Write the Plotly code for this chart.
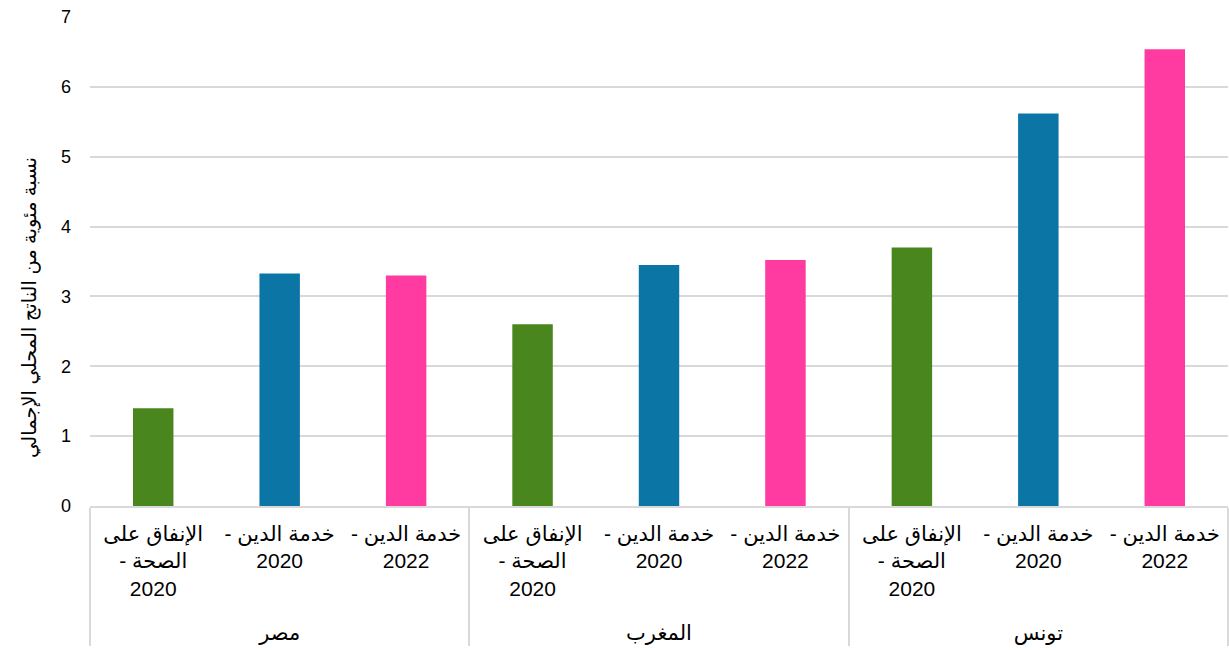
import plotly.graph_objects as go

RLM = "\u200f"
countries = ["مصر", "المغرب", "تونس"]
items = [
    "الإنفاق على<br>الصحة -" + RLM + "<br>2020",
    "خدمة الدين -" + RLM + "<br>2020",
    "خدمة الدين -" + RLM + "<br>2022",
]
values = {
    "مصر": [1.4, 3.33, 3.3],
    "المغرب": [2.6, 3.45, 3.52],
    "تونس": [3.7, 5.62, 6.54],
}
bar_colors = ["#4a861e", "#0b76a5", "#ff3aa0"]
ytitle = "نسبة مئوية من الناتج المحلي الإجمالي"

xg, xs, ys, cs = [], [], [], []
for c in countries:
    for i, it in enumerate(items):
        xg.append("<br>" + c)
        xs.append(it)
        ys.append(values[c][i])
        cs.append(bar_colors[i])

fig = go.Figure(go.Bar(x=[xg, xs], y=ys, marker=dict(color=cs, line=dict(width=0)), width=0.32))

fig.update_layout(
    width=1229, height=650,
    margin=dict(l=90, r=1, t=17, b=144),
    plot_bgcolor="white", paper_bgcolor="white",
    font=dict(family="Liberation Sans, Arial, DejaVu Sans", color="#000000"),
    showlegend=False,
)
fig.add_annotation(
    text=ytitle, textangle=-90, showarrow=False,
    xref="paper", yref="paper", x=-0.0527, y=0.405,
    xanchor="center", yanchor="middle",
    font=dict(size=19.5, color="#000000"),
)
fig.update_xaxes(
    type="multicategory",
    showdividers=True, dividercolor="#d9d9d9", dividerwidth=1.5,
    showline=True, linecolor="#d9d9d9", linewidth=1.5,
    tickfont=dict(size=21, color="#000000"),
    ticks="",
    ticklabelstandoff=8,
)
fig.update_yaxes(
    range=[0, 7], dtick=1,
    showgrid=True, gridcolor="#d9d9d9", gridwidth=1.5,
    zeroline=False,
    tickfont=dict(size=18, color="#000000"),
    ticklabelstandoff=18,
)
fig.write_html("out.html")
